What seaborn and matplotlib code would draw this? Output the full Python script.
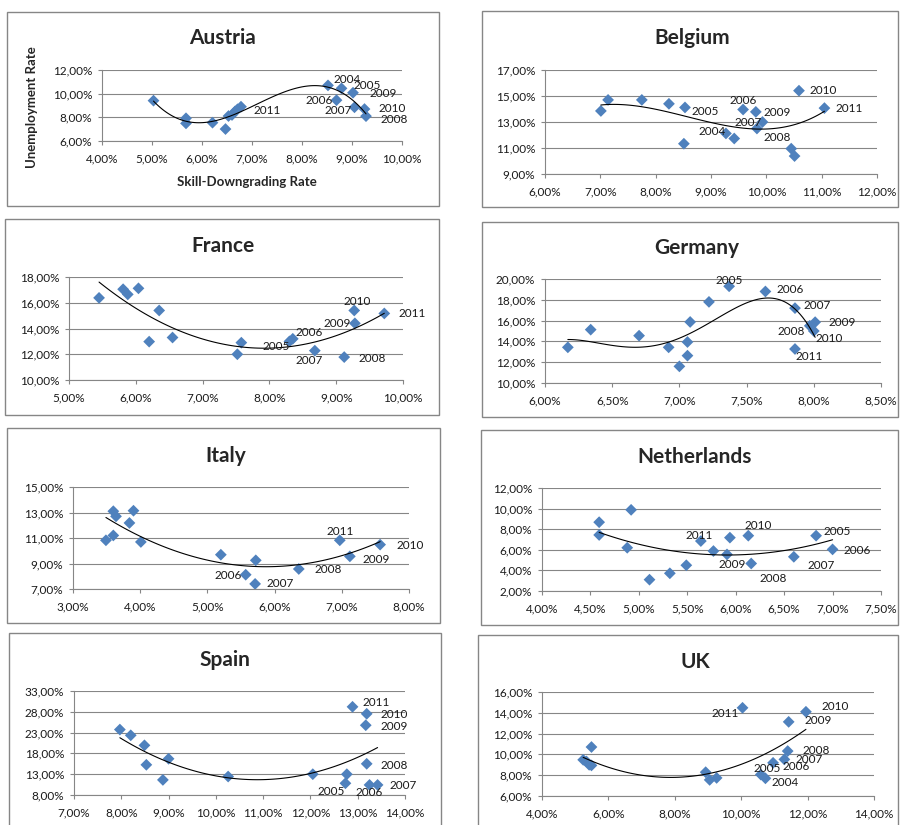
import numpy as np
import pandas as pd
import matplotlib
matplotlib.use("Agg")
import matplotlib.pyplot as plt
import seaborn as sns
from matplotlib.ticker import FuncFormatter, FixedLocator
from matplotlib.patches import Rectangle

# ---------------- data (percent values) ----------------
austria_x = [5.03, 5.68, 5.68, 6.21, 6.47, 6.53, 6.60, 6.66, 6.71, 6.78, 8.52, 8.79, 8.69, 9.05, 9.28, 9.02, 9.25]
austria_y = [9.41, 7.92, 7.49, 7.55, 7.01, 8.11, 8.20, 8.50, 8.68, 8.90, 10.70, 10.45, 9.45, 8.85, 8.10, 10.08, 8.70]
austria_lab = ["", "", "", "", "", "", "", "", "", "2011", "2004", "2005", "2006", "2007", "2008", "2009", "2010"]

belgium_x = [7.01, 7.14, 7.75, 8.24, 8.53, 8.51, 9.27, 9.42, 9.58, 9.81, 9.93, 9.83, 10.45, 10.51, 10.59, 11.05]
belgium_y = [13.85, 14.70, 14.70, 14.40, 14.12, 11.33, 12.12, 11.73, 13.96, 13.78, 13.00, 12.50, 10.95, 10.38, 15.41, 14.07]
belgium_lab = ["", "", "", "", "2005", "", "2004", "", "2006", "2009", "2007", "", "2008", "", "2010", "2011"]

france_x = [5.45, 5.81, 5.88, 6.04, 6.20, 6.35, 6.55, 7.52, 7.58, 8.30, 8.35, 8.68, 9.12, 9.28, 9.27, 9.72]
france_y = [16.38, 17.05, 16.65, 17.12, 12.98, 15.40, 13.30, 12.00, 12.90, 13.00, 13.20, 12.28, 11.78, 14.40, 15.40, 15.17]
france_lab = ["", "", "", "", "", "", "", "", "", "2005", "2006", "2007", "2008", "2009", "2010", "2011"]

germany_x = [6.17, 6.34, 6.70, 6.92, 7.00, 7.06, 7.06, 7.08, 7.22, 7.37, 7.64, 7.86, 7.97, 8.01, 8.00, 7.86]
germany_y = [13.43, 15.13, 14.55, 13.43, 11.60, 12.63, 13.94, 15.87, 17.80, 19.30, 18.80, 17.20, 15.50, 15.85, 15.00, 13.27]
germany_lab = ["", "", "", "", "", "", "", "", "", "2005", "2006", "2007", "2008", "2009", "2010", "2011"]

italy_x = [3.49, 3.60, 3.60, 3.64, 3.84, 3.90, 4.01, 5.20, 5.57, 5.72, 5.71, 6.36, 6.97, 7.12, 7.57]
italy_y = [10.82, 11.20, 13.10, 12.70, 12.18, 13.14, 10.69, 9.69, 8.12, 9.25, 7.40, 8.57, 10.82, 9.56, 10.48]
italy_lab = ["", "", "", "", "", "", "", "", "2006", "", "2007", "2008", "2011", "2009", "2010"]

netherlands_x = [4.59, 4.59, 4.88, 4.92, 5.11, 5.32, 5.49, 5.64, 5.77, 5.91, 5.94, 6.13, 6.16, 6.60, 6.83, 7.00]
netherlands_y = [8.68, 7.44, 6.20, 9.88, 3.10, 3.72, 4.50, 6.85, 5.88, 5.55, 7.18, 7.37, 4.67, 5.32, 7.37, 6.04]
netherlands_lab = ["", "", "", "", "", "", "", "2011", "", "2009", "", "2010", "2008", "2007", "2005", "2006"]

spain_x = [7.97, 8.20, 8.49, 8.53, 9.00, 8.88, 10.26, 12.05, 12.77, 12.74, 12.89, 13.19, 13.17, 13.19, 13.25, 13.42]
spain_y = [23.73, 22.35, 19.94, 15.26, 16.71, 11.63, 12.44, 13.00, 13.00, 10.82, 29.20, 27.52, 24.77, 15.50, 10.42, 10.42]
spain_lab = ["", "", "", "", "", "", "", "", "", "2005", "2011", "2010", "2009", "2008", "2006", "2007"]

uk_x = [5.24, 5.34, 5.42, 5.49, 5.49, 8.93, 9.05, 9.26, 10.04, 10.59, 10.73, 10.96, 11.30, 11.40, 11.43, 11.95]
uk_y = [9.48, 9.32, 9.00, 8.94, 10.71, 8.29, 7.55, 7.74, 14.48, 8.06, 7.70, 9.19, 9.52, 10.32, 13.13, 14.10]
uk_lab = ["", "", "", "", "", "", "", "", "2011", "2005", "2004", "2006", "2007", "2008", "2009", "2010"]

countries = ["Austria", "Belgium", "France", "Germany", "Italy", "Netherlands", "Spain", "UK"]
series = {
    "Austria": (austria_x, austria_y, austria_lab),
    "Belgium": (belgium_x, belgium_y, belgium_lab),
    "France": (france_x, france_y, france_lab),
    "Germany": (germany_x, germany_y, germany_lab),
    "Italy": (italy_x, italy_y, italy_lab),
    "Netherlands": (netherlands_x, netherlands_y, netherlands_lab),
    "Spain": (spain_x, spain_y, spain_lab),
    "UK": (uk_x, uk_y, uk_lab),
}
trend_order = {"Austria": 3, "Belgium": 3, "France": 2, "Germany": 4,
               "Italy": 2, "Netherlands": 2, "Spain": 2, "UK": 2}
x_range = {"Austria": (4, 10, 1), "Belgium": (6, 12, 1), "France": (5, 10, 1), "Germany": (6, 8.5, 0.5),
           "Italy": (3, 8, 1), "Netherlands": (4, 7.5, 0.5), "Spain": (7, 14, 1), "UK": (4, 14, 2)}
y_range = {"Austria": (6, 12, 2), "Belgium": (9, 17, 2), "France": (10, 18, 2), "Germany": (10, 20, 2),
           "Italy": (7, 15, 2), "Netherlands": (2, 12, 2), "Spain": (8, 33, 5), "UK": (6, 16, 2)}

# ---------------- layout (pixels) ----------------
W, H = 902, 825
boxes = {"Austria": (7, 12, 439, 206), "Belgium": (482, 11, 898, 207),
         "France": (5, 219, 439, 415), "Germany": (482, 222, 898, 417),
         "Italy": (7, 428, 440, 623), "Netherlands": (481, 430, 898, 625),
         "Spain": (9, 633, 441, 840), "UK": (478, 635, 898, 840)}
plot_area = {"Austria": (102, 402, 70, 141), "Belgium": (545, 877, 70, 174),
             "France": (69, 403, 277, 380), "Germany": (545, 881, 279, 383),
             "Italy": (73, 409, 487, 589), "Netherlands": (542, 881, 488, 591),
             "Spain": (74, 405, 691, 795), "UK": (542, 874, 692, 796)}
title_pos = {"Austria": (222, 38), "Belgium": (692, 38), "France": (223, 246), "Germany": (697, 248),
             "Italy": (226, 456), "Netherlands": (695, 457), "Spain": (225, 660), "UK": (695, 662)}
label_offsets = {
    "Austria": {"2004": (19, -6), "2005": (26, -3), "2009": (30, 1), "2006": (-17, 0),
                "2007": (-16, 3), "2010": (28, -1), "2008": (28, 3), "2011": (26, 4)},
    "Belgium": {"2010": (24, 0), "2011": (25, 0), "2005": (20, 4), "2004": (-14, -2),
                "2006": (0, -9), "2009": (21, 1), "2007": (-14, 0), "2008": (-14, -11)},
    "France": {"2005": (-13, 5), "2006": (16, -6), "2007": (-6, 10), "2008": (28, 1),
               "2009": (-18, 0), "2010": (3, -9), "2011": (28, 0)},
    "Germany": {"2005": (0, -6), "2006": (25, -2), "2007": (22, -3), "2008": (-19, 6),
                "2009": (27, 0), "2010": (15, 8), "2011": (14, 8)},
    "Italy": {"2006": (-18, 1), "2007": (25, 0), "2008": (29, 1), "2011": (0, -9),
              "2009": (26, 3), "2010": (30, 1)},
    "Netherlands": {"2011": (-2, -6), "2009": (5, 10), "2010": (10, -10), "2008": (22, 15),
                    "2007": (27, 9), "2005": (21, -4), "2006": (25, 1)},
    "Spain": {"2005": (-14, 8), "2011": (24, -4), "2010": (27, 1), "2009": (28, 1),
              "2008": (27, 2), "2006": (0, 8), "2007": (26, 1)},
    "UK": {"2011": (-17, 6), "2010": (29, -5), "2009": (30, -1), "2008": (29, -1),
           "2007": (25, 0), "2006": (23, 4), "2005": (6, -6), "2004": (20, 4)},
}

sns.set_theme(style="white")
plt.rcParams["font.family"] = ["Lato", "DejaVu Sans"]

GRAY = "#868686"
BLUE = "#4f81bd"

fig = plt.figure(figsize=(W / 100, H / 100), dpi=100)
fig.patch.set_facecolor("white")

pct = FuncFormatter(lambda v, p: f"{v:.2f}".replace(".", ",") + "%")

for name in countries:
    xs, ys, labs = series[name]
    l, t, r, b = boxes[name]
    fig.add_artist(Rectangle((l / W, 1 - b / H), (r - l) / W, (b - t) / H,
                             transform=fig.transFigure, fill=False, ec=GRAY, lw=1.0))
    x0, x1, yt, yb = plot_area[name]
    ax = fig.add_axes([x0 / W, 1 - yb / H, (x1 - x0) / W, (yb - yt) / H])
    df = pd.DataFrame({"x": xs, "y": ys, "label": labs})
    sns.scatterplot(data=df, x="x", y="y", marker="D", s=36, color=BLUE,
                    edgecolor="none", ax=ax, zorder=3, legend=False)
    sns.regplot(data=df, x="x", y="y", order=trend_order[name], ci=None, scatter=False,
                ax=ax, line_kws=dict(color="black", lw=0.8, zorder=4))
    xa, xb, xstep = x_range[name]
    ya, yb_, ystep = y_range[name]
    ax.set_xlim(xa, xb)
    ax.set_ylim(ya, yb_)
    ax.xaxis.set_major_locator(FixedLocator(np.arange(xa, xb + xstep / 2, xstep)))
    ax.yaxis.set_major_locator(FixedLocator(np.arange(ya, yb_ + ystep / 2, ystep)))
    ax.xaxis.set_major_formatter(pct)
    ax.yaxis.set_major_formatter(pct)
    ax.set_xlabel("")
    ax.set_ylabel("")
    ax.yaxis.grid(True, color=GRAY, lw=0.8)
    ax.xaxis.grid(False)
    ax.set_axisbelow(True)
    for s in ["top", "right"]:
        ax.spines[s].set_visible(False)
    for s in ["left", "bottom"]:
        ax.spines[s].set_color(GRAY)
        ax.spines[s].set_linewidth(0.8)
    ax.tick_params(axis="both", which="major", bottom=True, left=True, direction="out",
                   length=3, width=0.8, color=GRAY, labelsize=8.5, labelcolor="#1a1a1a")
    ax.tick_params(axis="x", pad=6)
    ax.tick_params(axis="y", pad=4)
    ax.patch.set_alpha(0)
    offs = label_offsets[name]
    for xv, yv, lab in zip(xs, ys, labs):
        if lab:
            dx, dy = offs[lab]
            ax.annotate(lab, (xv, yv), xytext=(dx * 0.72, -dy * 0.72), textcoords="offset points",
                        ha="center", va="center", fontsize=8.5, color="#1a1a1a",
                        annotation_clip=False, zorder=5)
    cx, cy = title_pos[name]
    fig.text(cx / W, 1 - cy / H, name, ha="center", va="center", fontsize=15, fontweight="bold")

fig.text(32 / W, 1 - 107 / H, "Unemployment Rate", rotation=90, ha="center", va="center",
         fontsize=9.5, fontweight="bold")
fig.text(247 / W, 1 - 182 / H, "Skill-Downgrading Rate", ha="center", va="center",
         fontsize=9.5, fontweight="bold")

fig.savefig("out.png", dpi=100, facecolor="white")
